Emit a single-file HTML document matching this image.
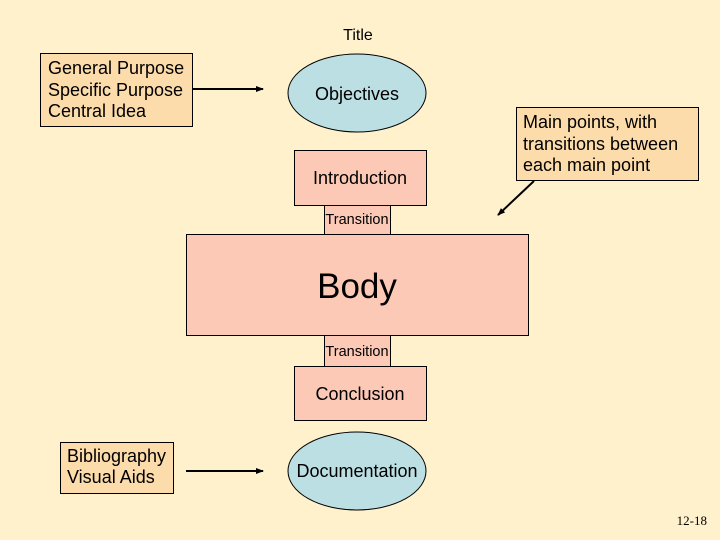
<!DOCTYPE html>
<html><head><style>
body{margin:0;background:#fff1cc;}
svg{display:block;font-family:"Liberation Sans",sans-serif;}
</style></head><body>
<svg width="720" height="540" viewBox="0 0 720 540">
<defs>
<marker id="a" markerWidth="8" markerHeight="8" refX="7" refY="4" orient="auto" markerUnits="userSpaceOnUse"><path d="M0,1 L8,4 L0,7z" fill="#000"/></marker>
</defs>
<rect width="720" height="540" fill="#fff1cc"/>
<text x="358" y="40" font-size="16" text-anchor="middle">Title</text>
<rect x="40.5" y="53.5" width="152" height="73" fill="#fddcab" stroke="#000"/>
<text x="48" y="74" font-size="18">General Purpose</text>
<text x="48" y="96" font-size="18">Specific Purpose</text>
<text x="48" y="117" font-size="18">Central Idea</text>
<line x1="193" y1="89" x2="263" y2="89" stroke="#000" stroke-width="2" marker-end="url(#a)"/>
<ellipse cx="357" cy="93" rx="69" ry="39" fill="#bcdfe3" stroke="#000"/>
<text x="357" y="100" font-size="18" text-anchor="middle">Objectives</text>
<rect x="516.5" y="107.5" width="182" height="73" fill="#fddcab" stroke="#000"/>
<text x="523" y="128" font-size="18">Main points, with</text>
<text x="523" y="150" font-size="18">transitions between</text>
<text x="523" y="171" font-size="18">each main point</text>
<line x1="534" y1="181" x2="498" y2="215" stroke="#000" stroke-width="2" marker-end="url(#a)"/>
<rect x="294.5" y="150.5" width="132" height="55" fill="#fcc9b6" stroke="#000"/>
<text x="360" y="184" font-size="18" text-anchor="middle">Introduction</text>
<rect x="324.5" y="205.5" width="66" height="29" fill="#fcc9b6" stroke="#000"/>
<text x="357" y="224" font-size="14.5" text-anchor="middle">Transition</text>
<rect x="186.5" y="234.5" width="342" height="101" fill="#fcc9b6" stroke="#000"/>
<text x="357" y="298" font-size="35" text-anchor="middle">Body</text>
<rect x="324.5" y="335.5" width="66" height="31" fill="#fcc9b6" stroke="#000"/>
<text x="357" y="356" font-size="14.5" text-anchor="middle">Transition</text>
<rect x="294.5" y="366.5" width="132" height="54" fill="#fcc9b6" stroke="#000"/>
<text x="360" y="400" font-size="18" text-anchor="middle">Conclusion</text>
<rect x="60.5" y="442.5" width="113" height="51" fill="#fddcab" stroke="#000"/>
<text x="67" y="462" font-size="18">Bibliography</text>
<text x="67" y="483" font-size="18">Visual Aids</text>
<line x1="186" y1="471" x2="263" y2="471" stroke="#000" stroke-width="2" marker-end="url(#a)"/>
<ellipse cx="357" cy="471" rx="69" ry="39" fill="#bcdfe3" stroke="#000"/>
<text x="357" y="477" font-size="18" text-anchor="middle">Documentation</text>
<text x="707" y="525" font-size="13" text-anchor="end" font-family="Liberation Serif,serif">12-18</text>
</svg>
</body></html>
